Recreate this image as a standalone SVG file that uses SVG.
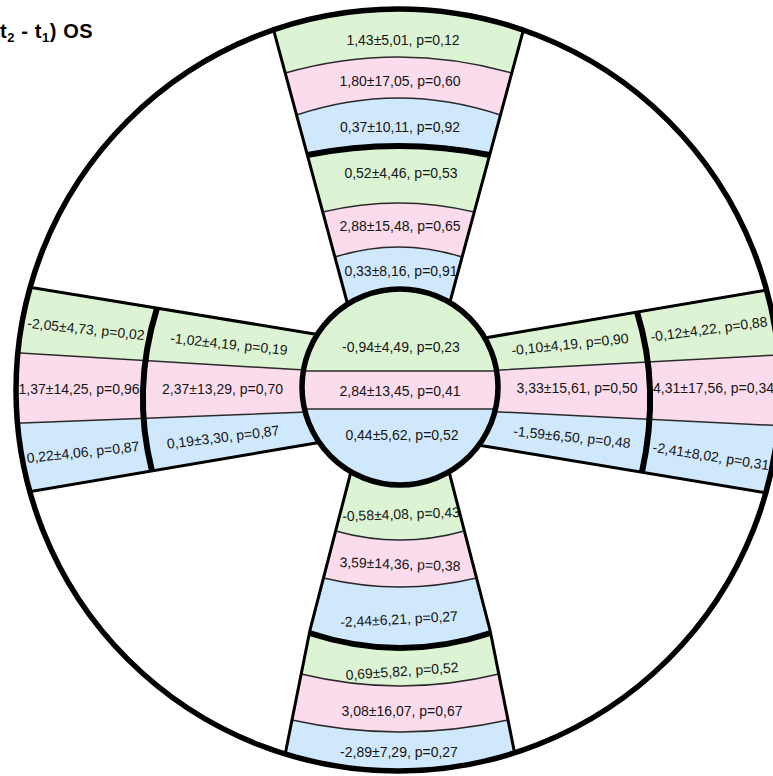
<svg xmlns="http://www.w3.org/2000/svg" width="773" height="776" viewBox="0 0 773 776">
<style>
.g{fill:#ddf4d4}.p{fill:#fadcec}.b{fill:#cfe8fb}
.thin{fill:none;stroke:#2a2a2a;stroke-width:1.5}
.side{fill:none;stroke:#000;stroke-width:3}
.thick{fill:none;stroke:#000;stroke-width:6}
.ring{fill:none;stroke:#000;stroke-width:5.5}
text{font-family:"Liberation Sans",Arial,sans-serif;font-size:14px;fill:#151515;text-anchor:middle}
.title{font-weight:bold;font-size:20px;text-anchor:start;letter-spacing:0.6px;fill:#000}
</style>
<defs>
<clipPath id="outer"><ellipse cx="398" cy="390" rx="382" ry="381"/></clipPath>
<clipPath id="inner"><circle cx="400" cy="387" r="98"/></clipPath>
</defs>
<rect width="773" height="776" fill="#fff"/>
<g id="arms" clip-path="url(#outer)">
<g id="top-arm">
<path class="g" d="M265.5,0 L531.5,0 L511.7,73 Q398.5,41 285.3,73 Z"/>
<path class="p" d="M285.3,73 Q398.5,41 511.7,73 L500.4,115 Q398.5,81 296.6,115 Z"/>
<path class="b" d="M296.6,115 Q398.5,81 500.4,115 L489.6,155 Q398.5,137 307.4,155 Z"/>
<path class="g" d="M307.4,155 Q398.5,137 489.6,155 L474.2,212 Q398.5,194 322.8,212 Z"/>
<path class="p" d="M322.8,212 Q398.5,194 474.2,212 L462,257 Q398.5,237 335,257 Z"/>
<path class="b" d="M335,257 Q398.5,237 462,257 L447.8,310 L349.2,310 Z"/>
<path class="thin" d="M285.3,73 Q398.5,41 511.7,73 M296.6,115 Q398.5,81 500.4,115 M322.8,212 Q398.5,194 474.2,212 M335,257 Q398.5,237 462,257"/>
<path class="side" d="M265.5,0 L349.2,310 M531.5,0 L447.8,310"/>
<path class="thick" d="M307.4,155 Q398.5,137 489.6,155"/>
</g>
<g id="left-arm">
<path class="g" d="M0,282.4 L322,335.2 L322,371.1 L0,351.8 Z"/>
<path class="p" d="M0,351.8 L322,371.1 L322,411.5 L0,423.8 Z"/>
<path class="b" d="M0,423.8 L322,411.5 L322,442 L0,496.8 Z"/>
<path class="thin" d="M0,351.8 L322,371.1 M0,423.8 L322,411.5"/>
<path class="side" d="M0,282.4 L322,335.2 M0,496.8 L322,442"/>
<path class="thick" d="M157,308.2 Q131.5,390.5 152,470.9"/>
</g>
<g id="right-arm">
<path class="g" d="M476,339.4 L790,286 L790,354.3 L476,371.3 Z"/>
<path class="p" d="M476,371.3 L790,354.3 L790,426.2 L476,410.8 Z"/>
<path class="b" d="M476,410.8 L790,426.2 L790,496.8 L476,444.7 Z"/>
<path class="thin" d="M476,371.3 L790,354.3 M476,410.8 L790,426.2"/>
<path class="side" d="M476,339.4 L790,286 M476,444.7 L790,496.8"/>
<path class="thick" d="M637,312 Q660.5,388 642,472"/>
</g>
<g id="bottom-arm">
<path class="g" d="M351.4,470 L448.6,470 L464.4,531 Q400,549 335.6,531 Z"/>
<path class="p" d="M335.6,531 Q400,549 464.4,531 L476.6,578 Q400,596 323.4,578 Z"/>
<path class="b" d="M323.4,578 Q400,596 476.6,578 L490,630 L490.6,633 Q400,663 309.4,633 L310,630 Z"/>
<path class="g" d="M309.4,633 Q400,663 490.6,633 L498.8,674 Q400,698 301.2,674 Z"/>
<path class="p" d="M301.2,674 Q400,698 498.8,674 L508,720 Q400,744 292,720 Z"/>
<path class="b" d="M292,720 Q400,744 508,720 L522,790 L278,790 Z"/>
<path class="thin" d="M335.6,531 Q400,549 464.4,531 M323.4,578 Q400,596 476.6,578 M301.2,674 Q400,698 498.8,674 M292,720 Q400,744 508,720"/>
<path class="side" d="M351.4,470 L310,630 L278,790 M448.6,470 L490,630 L522,790"/>
<path class="thick" d="M309.4,633 Q400,663 490.6,633"/>
</g>
</g>
<g id="center">
<g clip-path="url(#inner)">
<rect class="g" x="300" y="285" width="200" height="86"/>
<rect class="p" x="300" y="371" width="200" height="38"/>
<rect class="b" x="300" y="409" width="200" height="80"/>
<path class="thin" d="M300,371 H500 M300,409 H500"/>
</g>
<circle class="ring" cx="400" cy="387" r="98"/>
<text x="401" y="352">-0,94±4,49, p=0,23</text>
<text x="400" y="396">2,84±13,45, p=0,41</text>
<text x="402" y="440">0,44±5,62, p=0,52</text>
</g>
<ellipse id="outer-ring" class="ring" cx="398" cy="390" rx="382" ry="381"/>
<g id="top-labels">
<text x="403" y="45">1,43±5,01, p=0,12</text>
<text x="400" y="86">1,80±17,05, p=0,60</text>
<text x="400" y="132">0,37±10,11, p=0,92</text>
<text x="401" y="178">0,52±4,46, p=0,53</text>
<text x="400" y="231">2,88±15,48, p=0,65</text>
<text x="401" y="276">0,33±8,16, p=0,91</text>
</g>
<g id="left-labels">
<text x="86" y="334" transform="rotate(6 86 329)">-2,05±4,73, p=0,02</text>
<text x="229" y="349" transform="rotate(6 229 344)">-1,02±4,19, p=0,19</text>
<text x="79" y="394">1,37±14,25, p=0,96</text>
<text x="222.5" y="394">2,37±13,29, p=0,70</text>
<text x="83" y="457" transform="rotate(-6 83 452)">0,22±4,06, p=0,87</text>
<text x="223" y="442" transform="rotate(-7 223 437)">0,19±3,30, p=0,87</text>
</g>
<g id="right-labels">
<text x="570" y="349" transform="rotate(-6 570 344)">-0,10±4,19, p=0,90</text>
<text x="709" y="334" transform="rotate(-7.5 709 329)">-0,12±4,22, p=0,88</text>
<text x="577" y="393">3,33±15,61, p=0,50</text>
<text x="653" y="393" style="text-anchor:start">4,31±17,56, p=0,34</text>
<text x="572" y="442" transform="rotate(6 572 437)">-1,59±6,50, p=0,48</text>
<text x="711" y="461" transform="rotate(9 711 456)">-2,41±8,02, p=0,31</text>
</g>
<g id="bottom-labels">
<text x="401" y="519" transform="rotate(-2 401 514)">-0,58±4,08, p=0,43</text>
<text x="400" y="569" transform="rotate(2 400 564)">3,59±14,36, p=0,38</text>
<text x="399" y="624" transform="rotate(-3 399 619)">-2,44±6,21, p=0,27</text>
<text x="402" y="676" transform="rotate(-4 402 671)">0,69±5,82, p=0,52</text>
<text x="402" y="716">3,08±16,07, p=0,67</text>
<text x="399" y="757">-2,89±7,29, p=0,27</text>
</g>
<text class="title" x="0" y="38">t<tspan font-size="13" dy="4">2</tspan><tspan dy="-4"> - t</tspan><tspan font-size="13" dy="4">1</tspan><tspan dy="-4">) OS</tspan></text>
</svg>
